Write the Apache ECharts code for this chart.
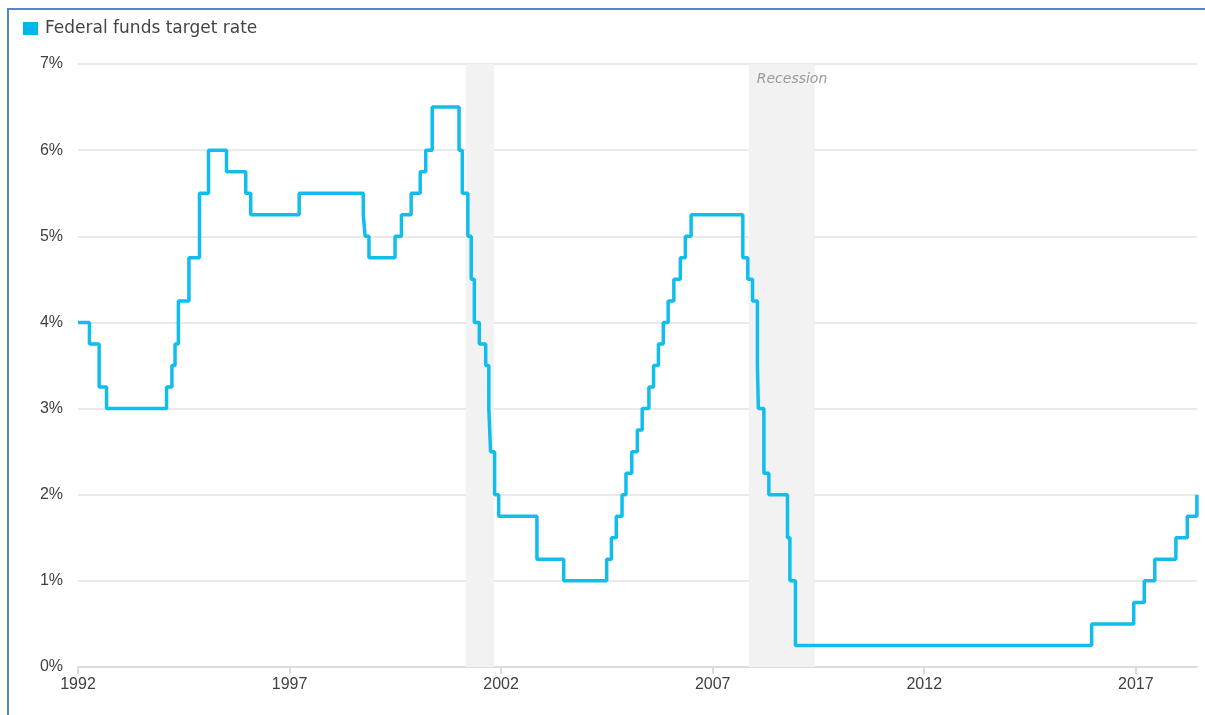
<!DOCTYPE html>
<html>
<head>
<meta charset="utf-8">
<script src="https://cdn.jsdelivr.net/npm/echarts@6/dist/echarts.min.js"></script>
<style>
  html, body { margin: 0; padding: 0; background: #fff; }
  #chart { width: 1205px; height: 715px; }
</style>
</head>
<body>
<div id="chart"></div>
<script>
// Change dates of the federal funds target rate and the new rate (%)
var changeDates = ['1992-01-01','1992-04-09','1992-07-02','1992-09-04',
  '1994-02-04','1994-03-22','1994-04-18','1994-05-17','1994-08-16','1994-11-15',
  '1995-02-01','1995-07-06','1995-12-19','1996-01-31','1997-03-25',
  '1998-09-29','1998-10-15','1998-11-17','1999-06-30','1999-08-24','1999-11-16',
  '2000-02-02','2000-03-21','2000-05-16',
  '2001-01-03','2001-01-31','2001-03-20','2001-04-18','2001-05-15','2001-06-27',
  '2001-08-21','2001-09-17','2001-10-02','2001-11-06','2001-12-11',
  '2002-11-06','2003-06-25',
  '2004-06-30','2004-08-10','2004-09-21','2004-11-10','2004-12-14',
  '2005-02-02','2005-03-22','2005-05-03','2005-06-30','2005-08-09','2005-09-20','2005-11-01','2005-12-13',
  '2006-01-31','2006-03-28','2006-05-10','2006-06-29',
  '2007-09-18','2007-10-31','2007-12-11',
  '2008-01-22','2008-01-30','2008-03-18','2008-04-30','2008-10-08','2008-10-29','2008-12-16',
  '2015-12-16','2016-12-14','2017-03-15','2017-06-14','2017-12-13','2018-03-21','2018-06-12'];
var rates = [4.0,3.75,3.25,3.0,
  3.25,3.5,3.75,4.25,4.75,5.5,
  6.0,5.75,5.5,5.25,5.5,
  5.25,5.0,4.75,5.0,5.25,5.5,
  5.75,6.0,6.5,
  6.0,5.5,5.0,4.5,4.0,3.75,
  3.5,3.0,2.5,2.0,1.75,
  1.25,1.0,
  1.25,1.5,1.75,2.0,2.25,
  2.5,2.75,3.0,3.25,3.5,3.75,4.0,4.25,
  4.5,4.75,5.0,5.25,
  4.75,4.5,4.25,
  3.5,3.0,2.25,2.0,1.5,1.0,0.25,
  0.5,0.75,1.0,1.25,1.5,1.75,2.0];
var recessionStarts = ['2001-03-01','2007-11-08'];
var recessionEnds   = ['2001-11-01','2009-06-01'];
var yearTicks = [1992,1997,2002,2007,2012,2017];
var axisEnd = '2018-06-13';
var seriesName = 'Federal funds target rate';

function decYear(s) {
  var p = s.split('-').map(Number);
  var t = Date.UTC(p[0], p[1]-1, p[2]);
  var t0 = Date.UTC(p[0], 0, 1), t1 = Date.UTC(p[0]+1, 0, 1);
  return p[0] + (t - t0) / (t1 - t0);
}

var WIDE = 'DejaVu Sans, Verdana, sans-serif';
var AXIS = 'Liberation Sans, Arial, sans-serif';
var lineData = changeDates.map(function (d, i) { return [decYear(d), rates[i]]; });
lineData.push([decYear(axisEnd), rates[rates.length-1]]);

var areas = recessionStarts.map(function (s, i) {
  var first = { xAxis: decYear(s) };
  if (i === recessionStarts.length - 1) {
    first.label = {
      show: true, formatter: 'Recession', position: 'insideTopLeft',
      distance: 8, color: '#9a9a9a', fontStyle: 'italic',
      fontSize: 14, fontFamily: WIDE
    };
  } else {
    first.label = { show: false };
  }
  return [first, { xAxis: decYear(recessionEnds[i]) }];
});

var chart = echarts.init(document.getElementById('chart'));
chart.setOption({
  animation: false,
  backgroundColor: '#fff',
  grid: { left: 78, right: 8, top: 64, bottom: 48, containLabel: false },
  legend: {
    show: true, left: 23, top: 20, padding: 0, itemWidth: 15, itemHeight: 13, itemGap: 7,
    icon: 'rect',
    textStyle: { color: '#444', fontSize: 17, fontFamily: WIDE, padding: [0, 0, 0, 2] },
    data: [seriesName]
  },
  xAxis: {
    type: 'value', min: 1992, max: decYear(axisEnd), interval: 5,
    splitLine: { show: false },
    axisLine: { show: true, lineStyle: { color: '#dcdcdc', width: 2 } },
    axisTick: { show: true, length: 7, lineStyle: { color: '#dcdcdc', width: 2 },
      customValues: yearTicks },
    axisLabel: { color: '#404040', fontSize: 16, margin: 10, fontFamily: AXIS,
      customValues: yearTicks,
      formatter: function (v) { return String(Math.round(v)); } }
  },
  yAxis: {
    type: 'value', min: 0, max: 7, interval: 1,
    axisLine: { show: false }, axisTick: { show: false },
    splitLine: { show: true, lineStyle: { color: '#e2e2e2', width: 1.5 } },
    axisLabel: { color: '#404040', fontSize: 16, margin: 15, fontFamily: AXIS,
      formatter: '{value}%' }
  },
  series: [{
    name: seriesName, type: 'line', step: 'end', showSymbol: false,
    data: lineData,
    itemStyle: { color: '#00b7ea' },
    lineStyle: { color: '#10bdec', width: 3.5 },
    z: 3,
    markArea: {
      silent: true,
      itemStyle: { color: '#f2f2f2' },
      data: areas
    }
  }],
  graphic: [{
    type: 'polyline', silent: true, z: 100,
    shape: { points: [[8, 715], [8, 9], [1205, 9]] },
    style: { stroke: '#5585c8', lineWidth: 2, fill: null }
  }]
});
</script>
</body>
</html>
